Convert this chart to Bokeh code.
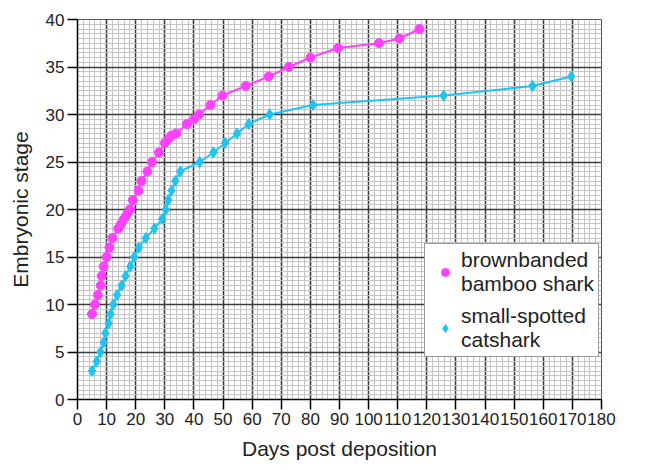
from bokeh.plotting import figure
from bokeh.models import SingleIntervalTicker, Range1d, Legend, LegendItem
from bokeh.embed import file_html
from bokeh.resources import INLINE

# brownbanded bamboo shark
bamboo_days = [5, 6, 7, 8, 8.3, 9, 10, 11, 12, 14, 15, 16, 17, 18, 19, 21, 22, 24, 25.6, 28, 30, 31.2, 32.3, 33.9, 37.6, 40, 41.8, 45.7, 49.8, 57.8, 65.7, 72.6, 80, 89.5, 103.6, 110.6, 117.5]
bamboo_stage = [9, 10, 11, 12, 13, 14, 15, 16, 17, 18, 18.5, 19, 19.5, 20, 21, 22, 23, 24, 25, 26, 27, 27.4, 27.8, 28, 29, 29.5, 30, 31, 32, 33, 34, 35, 36, 37, 37.5, 38, 39]

# small-spotted catshark
cat_days = [5, 6.6, 7.9, 9, 9.6, 10.7, 11.4, 12.3, 13.6, 15.2, 16.5, 18.1, 19.5, 21.1, 23.5, 26.4, 29.1, 30.4, 31.2, 32.3, 33.6, 35.3, 42, 46.7, 50.7, 54.8, 58.8, 66, 80.9, 125.8, 156.3, 169.6]
cat_stage = [3, 4, 5, 6, 7, 8, 9, 10, 11, 12, 13, 14, 15, 16, 17, 18, 19, 20, 21, 22, 23, 24, 25, 26, 27, 28, 29, 30, 31, 32, 33, 34]

legend_labels = ["brownbanded\nbamboo shark", "small-spotted\ncatshark"]

MAGENTA = "#ff40ff"
CYAN = "#20c4f0"
FONT = "Liberation Sans"

p = figure(width=645, height=462, output_backend="svg", toolbar_location=None,
           x_range=Range1d(0, 180), y_range=Range1d(0, 40),
           min_border_left=77, min_border_right=44, min_border_top=19, min_border_bottom=40)

p.background_fill_color = "white"
p.outline_line_color = "#555555"
p.outline_line_width = 1

p.xaxis.ticker = SingleIntervalTicker(interval=10, num_minor_ticks=5)
p.yaxis.ticker = SingleIntervalTicker(interval=5, num_minor_ticks=10)

for g in (p.xgrid, p.ygrid):
    g.grid_line_color = "#3c3c3c"
    g.grid_line_width = 1.6
    g.minor_grid_line_color = "#c4c4c4"
    g.minor_grid_line_width = 1

for ax in (p.xaxis, p.yaxis):
    ax.axis_line_color = "black"
    ax.axis_line_width = 1.5
    ax.major_tick_line_color = "black"
    ax.major_tick_line_width = 1.5
    ax.major_tick_out = 10
    ax.major_tick_in = 0
    ax.minor_tick_out = 0
    ax.minor_tick_in = 0
    ax.major_label_text_font = FONT
    ax.major_label_text_font_size = "17px"
    ax.major_label_text_color = "#222222"
    ax.major_label_text_line_height = 1.0
    ax.axis_label_text_font = FONT
    ax.axis_label_text_font_size = "21px"
    ax.axis_label_text_font_style = "normal"
    ax.axis_label_text_color = "#222222"
    ax.axis_label_text_line_height = 1.0

p.xaxis.axis_label = "Days post deposition"
p.yaxis.axis_label = "Embryonic stage"
p.xaxis.major_label_standoff = 3
p.yaxis.major_label_standoff = 3
p.xaxis.axis_label_standoff = 9
p.yaxis.axis_label_standoff = 11

p.line(bamboo_days, bamboo_stage, line_color=MAGENTA, line_width=2)
r1 = p.scatter(bamboo_days, bamboo_stage, marker="circle", size=9, fill_color=MAGENTA, line_color=MAGENTA)
p.line(cat_days, cat_stage, line_color=CYAN, line_width=2)
r2 = p.scatter(cat_days, cat_stage, marker="diamond", size=11, fill_color=CYAN, line_color=CYAN)

legend = Legend(items=[LegendItem(label=legend_labels[0], renderers=[r1]),
                       LegendItem(label=legend_labels[1], renderers=[r2])],
                location=(347, 42))
legend.label_text_font = FONT
legend.label_text_font_size = "21px"
legend.label_text_color = "#222222"
legend.label_text_line_height = 1.55
legend.border_line_color = "#333333"
legend.border_line_width = 1.5
legend.background_fill_alpha = 1
legend.glyph_width = 32
legend.label_standoff = 0
legend.padding = 4
legend.spacing = 8
legend.margin = 0
p.add_layout(legend, "center")

open("out.html", "w").write(file_html(p, INLINE))
